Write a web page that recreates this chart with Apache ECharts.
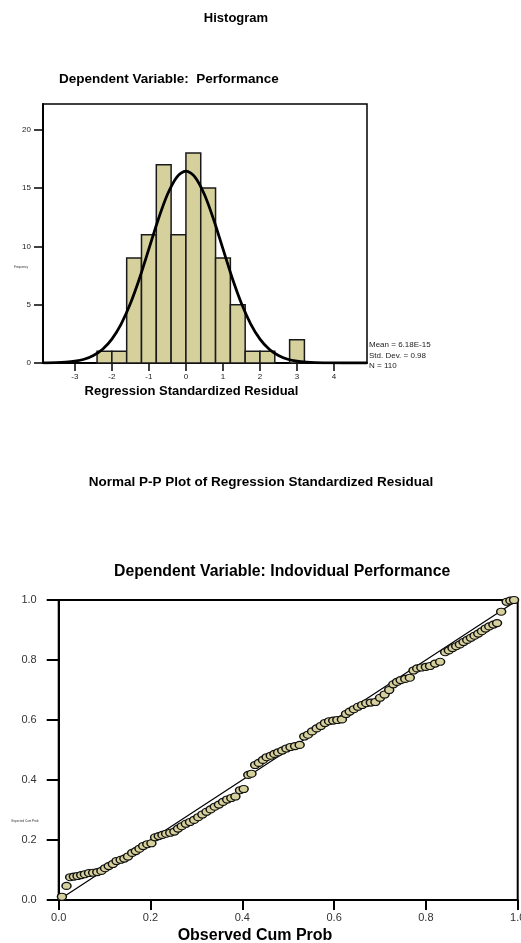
<!DOCTYPE html>
<html>
<head>
<meta charset="utf-8">
<script src="https://cdn.jsdelivr.net/npm/echarts@6/dist/echarts.min.js"></script>
<style>
html,body{margin:0;padding:0;background:#fff;}
#chart{width:521px;height:943px;}
</style>
</head>
<body>
<div id="chart"></div>
<script>
// ---- Histogram data ----
const histBinLower = [-2.4, -2.0, -1.6, -1.2, -0.8, -0.4, 0.0, 0.4, 0.8, 1.2, 1.6, 2.0, 2.8];
const histBinUpper = [-2.0, -1.6, -1.2, -0.8, -0.4, 0.0, 0.4, 0.8, 1.2, 1.6, 2.0, 2.4, 3.2];
const histCounts   = [1, 1, 9, 11, 17, 11, 18, 15, 9, 5, 1, 1, 2];
const histXTicks = [-3, -2, -1, 0, 1, 2, 3, 4];
const histYTicks = [0, 5, 10, 15, 20];
const histCurveX = [-3.86,-3.5,-3.25,-3,-2.75,-2.5,-2.25,-2,-1.75,-1.5,-1.25,-1,-0.75,-0.5,-0.25,0,0.25,0.5,0.75,1,1.25,1.5,1.75,2,2.25,2.5,2.75,3,3.25,3.5,4,4.5,4.89];
const histCurveY = [0.007,0.028,0.067,0.15,0.32,0.64,1.18,2.05,3.34,5.1,7.29,9.78,12.28,14.44,15.92,16.45,15.92,14.44,12.28,9.78,7.29,5.1,3.34,2.05,1.18,0.64,0.32,0.15,0.067,0.028,0.004,0,0];
const histStats = ['Mean = 6.18E-15', 'Std. Dev. = 0.98', 'N = 110'];

// ---- P-P plot data ----
const ppObserved = [0.007,0.017,0.025,0.033,0.041,0.049,0.057,0.066,0.075,0.084,0.093,0.101,0.109,0.118,0.126,0.135,0.143,0.151,0.160,0.168,0.176,0.184,0.193,0.202,0.210,0.218,0.226,0.234,0.243,0.252,0.260,0.268,0.277,0.286,0.295,0.304,0.313,0.322,0.331,0.340,0.349,0.358,0.367,0.376,0.385,0.395,0.403,0.413,0.420,0.428,0.436,0.445,0.453,0.462,0.470,0.478,0.487,0.496,0.505,0.515,0.525,0.535,0.543,0.552,0.562,0.571,0.580,0.589,0.598,0.607,0.617,0.626,0.634,0.643,0.652,0.661,0.670,0.680,0.690,0.700,0.710,0.720,0.729,0.737,0.745,0.755,0.765,0.773,0.781,0.790,0.800,0.809,0.820,0.831,0.842,0.850,0.858,0.866,0.874,0.882,0.890,0.898,0.906,0.914,0.922,0.930,0.938,0.947,0.955,0.964,0.976,0.984,0.992];
const ppExpected = [0.011,0.047,0.076,0.078,0.080,0.083,0.086,0.090,0.091,0.093,0.097,0.106,0.113,0.120,0.130,0.134,0.138,0.145,0.157,0.163,0.171,0.180,0.186,0.189,0.209,0.213,0.217,0.221,0.224,0.228,0.238,0.246,0.254,0.260,0.267,0.276,0.285,0.294,0.302,0.311,0.318,0.327,0.335,0.340,0.345,0.366,0.370,0.417,0.421,0.450,0.457,0.467,0.476,0.481,0.487,0.492,0.498,0.505,0.510,0.513,0.517,0.545,0.551,0.562,0.572,0.580,0.590,0.596,0.598,0.600,0.602,0.620,0.628,0.636,0.644,0.650,0.656,0.658,0.660,0.674,0.685,0.700,0.719,0.727,0.733,0.737,0.741,0.765,0.772,0.775,0.777,0.780,0.788,0.794,0.826,0.832,0.840,0.846,0.852,0.860,0.867,0.874,0.881,0.888,0.896,0.905,0.912,0.918,0.923,0.961,0.994,0.998,1.0];
const ppRefLine = [[0, 0], [1, 1]];
const ppTicks = [0, 0.2, 0.4, 0.6, 0.8, 1.0];

const FONT = '"Liberation Sans", Arial, sans-serif';
const TAN = '#d5d09c';

const chart = echarts.init(document.getElementById('chart'), null, {renderer: 'canvas'});

const histBars = histCounts.map((c, i) => [histBinLower[i], histBinUpper[i], c]);
const curveData = histCurveX.map((x, i) => [x, histCurveY[i]]);
const ppData = ppObserved.map((x, i) => [x, ppExpected[i]]);

function txt(x, y, text, size, weight, align, color) {
  return {
    type: 'text', x: x, y: y,
    style: {text: text, font: (weight || 'normal') + ' ' + size + 'px ' + FONT,
            fill: color || '#000', align: align || 'left', verticalAlign: 'middle'}
  };
}

const option = {
  animation: false,
  backgroundColor: '#fff',
  grid: [
    {left: 43, top: 104, width: 324, height: 259, show: true, borderColor: '#000', borderWidth: 1.5, containLabel: false, outerBoundsMode: 'none'},
    {left: 58.7, top: 600, width: 459, height: 300, show: true, borderColor: '#000', borderWidth: 2, containLabel: false, outerBoundsMode: 'none'}
  ],
  xAxis: [
    {
      type: 'value', gridIndex: 0, min: -3.86, max: 4.89,
      axisLine: {show: true, onZero: false, lineStyle: {color: '#000', width: 2}},
      axisTick: {show: true, length: 8, customValues: histXTicks, lineStyle: {color: '#000', width: 1.5}},
      axisLabel: {customValues: histXTicks, margin: 10, fontSize: 8, color: '#222', fontFamily: FONT},
      splitLine: {show: false}
    },
    {
      type: 'value', gridIndex: 1, min: 0, max: 1, interval: 0.2,
      axisLine: {show: true, onZero: false, lineStyle: {color: '#000', width: 2}},
      axisTick: {show: true, length: 10, customValues: ppTicks, lineStyle: {color: '#000', width: 2}},
      axisLabel: {customValues: ppTicks, margin: 12, fontSize: 11, color: '#333', fontFamily: FONT, formatter: v => v.toFixed(1)},
      splitLine: {show: false}
    }
  ],
  yAxis: [
    {
      type: 'value', gridIndex: 0, min: 0, max: 22.2,
      axisLine: {show: true, onZero: false, lineStyle: {color: '#000', width: 2}},
      axisTick: {show: true, length: 9, customValues: histYTicks, lineStyle: {color: '#000', width: 1.5}},
      axisLabel: {customValues: histYTicks, margin: 12, fontSize: 8, color: '#222', fontFamily: FONT},
      splitLine: {show: false}
    },
    {
      type: 'value', gridIndex: 1, min: 0, max: 1, interval: 0.2,
      axisLine: {show: true, onZero: false, lineStyle: {color: '#000', width: 2}},
      axisTick: {show: true, length: 12, customValues: ppTicks, lineStyle: {color: '#000', width: 2}},
      axisLabel: {customValues: ppTicks, margin: 22, fontSize: 11, color: '#333', fontFamily: FONT, formatter: v => v.toFixed(1)},
      splitLine: {show: false}
    }
  ],
  series: [
    {
      type: 'custom', xAxisIndex: 0, yAxisIndex: 0, z: 2,
      data: histBars,
      encode: {x: [0, 1], y: 2},
      renderItem: function (params, api) {
        const p0 = api.coord([api.value(0), 0]);
        const p1 = api.coord([api.value(1), api.value(2)]);
        return {
          type: 'rect',
          shape: {x: p0[0], y: p1[1], width: p1[0] - p0[0], height: p0[1] - p1[1]},
          style: {fill: TAN, stroke: '#1a1a1a', lineWidth: 1.5}
        };
      }
    },
    {
      type: 'line', xAxisIndex: 0, yAxisIndex: 0, z: 3,
      data: curveData, smooth: 0.3, showSymbol: false, symbol: 'none',
      lineStyle: {color: '#000', width: 2.8}
    },
    {
      type: 'line', xAxisIndex: 1, yAxisIndex: 1, z: 2,
      data: ppRefLine, showSymbol: false, symbol: 'none',
      lineStyle: {color: '#000', width: 1.2}
    },
    {
      type: 'scatter', xAxisIndex: 1, yAxisIndex: 1, z: 3,
      data: ppData, symbol: 'circle', symbolSize: [9, 7],
      itemStyle: {color: TAN, borderColor: '#111', borderWidth: 1.3, opacity: 1}
    }
  ],
  graphic: [
    txt(236, 18, 'Histogram', 13, 'bold', 'center'),
    txt(59, 79, 'Dependent Variable:  Performance', 13.5, 'bold', 'left'),
    txt(21, 267, 'Frequency', 3, 'normal', 'center', '#333'),
    txt(191.5, 391, 'Regression Standardized Residual', 13, 'bold', 'center'),
    txt(369, 345, histStats[0], 8, 'normal', 'left', '#222'),
    txt(369, 356, histStats[1], 8, 'normal', 'left', '#222'),
    txt(369, 366, histStats[2], 8, 'normal', 'left', '#222'),
    txt(261, 482, 'Normal P-P Plot of Regression Standardized Residual', 13.5, 'bold', 'center'),
    txt(114, 572, 'Dependent Variable: Indovidual Performance', 15.8, 'bold', 'left'),
    txt(25, 821, 'Expected Cum Prob', 3, 'normal', 'center', '#333'),
    txt(255, 936, 'Observed Cum Prob', 16, 'bold', 'center')
  ]
};
chart.setOption(option);
</script>
</body>
</html>
